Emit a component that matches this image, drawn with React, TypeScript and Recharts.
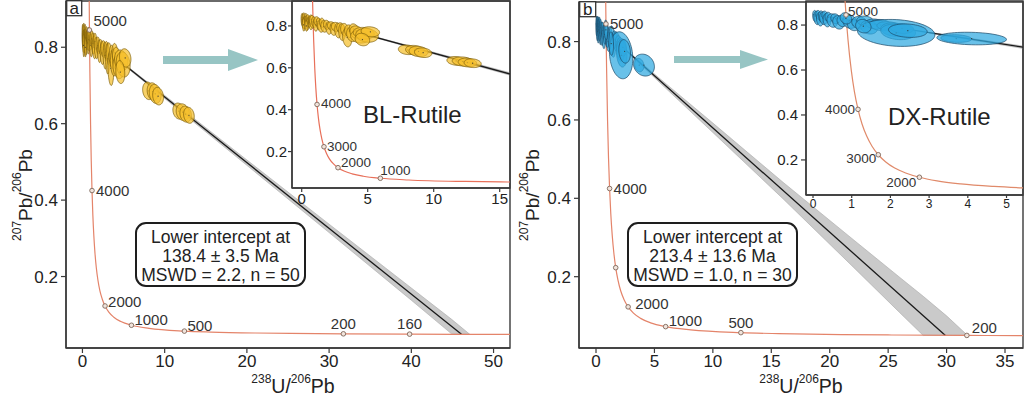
import React from 'react';
import { ComposedChart, XAxis, YAxis, Line, Scatter, Area, ReferenceArea } from 'recharts';

const FONT = "'Liberation Sans', Arial, Helvetica, sans-serif";

// ---- Tera-Wasserburg concordia (age in Ma, 238U/206Pb, 207Pb/206Pb) ----
const concordiaAge = [5300, 5200, 5100, 5000, 4800, 4500, 4250, 4000, 3750, 3500, 3250, 3000, 2750, 2500, 2250, 2000, 1750, 1500, 1250, 1000, 750, 500, 400, 300, 250, 200, 160, 140, 120, 100];
const concordiaX = [0.784, 0.806, 0.829, 0.853, 0.904, 0.99, 1.071, 1.163, 1.267, 1.387, 1.525, 1.687, 1.88, 2.111, 2.394, 2.749, 3.206, 3.817, 4.673, 5.959, 8.105, 12.399, 15.621, 20.991, 25.289, 31.735, 39.79, 45.55, 53.22, 63.97];
const concordiaY = [1.046, 0.974, 0.907, 0.845, 0.735, 0.597, 0.503, 0.425, 0.36, 0.306, 0.261, 0.223, 0.191, 0.164, 0.142, 0.123, 0.107, 0.0936, 0.0822, 0.0725, 0.0643, 0.0572, 0.0547, 0.0523, 0.0512, 0.0501, 0.04925, 0.04884, 0.04843, 0.04802];

const markerAgesAMain = [5000, 4000, 2000, 1000, 500, 200, 160];
const markerAgesAInset = [4000, 3000, 2000, 1000];
const markerAgesBMain = [5000, 4000, 3000, 2000, 1000, 500, 200];
const markerAgesBInset = [5000, 4000, 3000, 2000];

// ---- BL-Rutile (n = 50) ----
const aX = [0.05, 0.12, 0.18, 0.22, 0.28, 0.33, 0.38, 0.42, 0.48, 0.55, 0.6, 0.68, 0.72, 0.15, 0.35, 0.8, 0.95, 1.05, 1.15, 1.3, 1.45, 1.55, 1.7, 1.9, 2.05, 2.25, 2.4, 2.6, 2.75, 2.95, 3.05, 3.25, 3.45, 3.6, 3.8, 3.95, 4.15, 4.4, 4.7, 4.95, 5.2, 4.6, 8.0, 8.55, 8.85, 9.2, 11.7, 12.2, 12.55, 12.95];
const aY = [0.83, 0.822, 0.838, 0.815, 0.828, 0.842, 0.82, 0.81, 0.832, 0.818, 0.826, 0.812, 0.83, 0.805, 0.8, 0.82, 0.818, 0.805, 0.822, 0.81, 0.8, 0.815, 0.798, 0.805, 0.79, 0.8, 0.785, 0.795, 0.778, 0.79, 0.77, 0.782, 0.745, 0.775, 0.76, 0.785, 0.77, 0.748, 0.765, 0.755, 0.772, 0.735, 0.686, 0.684, 0.678, 0.672, 0.633, 0.63, 0.625, 0.622];
const aSX = [0.1, 0.12, 0.1, 0.15, 0.12, 0.1, 0.15, 0.12, 0.14, 0.16, 0.12, 0.15, 0.18, 0.1, 0.12, 0.2, 0.2, 0.18, 0.22, 0.2, 0.25, 0.2, 0.25, 0.25, 0.22, 0.3, 0.25, 0.35, 0.25, 0.3, 0.25, 0.3, 0.35, 0.35, 0.4, 0.35, 0.5, 0.7, 0.8, 0.85, 0.7, 0.55, 0.68, 0.68, 0.72, 0.66, 0.7, 0.8, 0.7, 0.65];
const aSY = [0.03, 0.035, 0.025, 0.03, 0.02, 0.018, 0.028, 0.03, 0.022, 0.025, 0.02, 0.03, 0.022, 0.03, 0.025, 0.03, 0.025, 0.03, 0.022, 0.028, 0.03, 0.022, 0.028, 0.022, 0.03, 0.02, 0.03, 0.022, 0.035, 0.025, 0.04, 0.03, 0.045, 0.03, 0.035, 0.025, 0.03, 0.03, 0.028, 0.033, 0.024, 0.03, 0.023, 0.023, 0.025, 0.023, 0.021, 0.022, 0.021, 0.021];

// ---- DX-Rutile (n = 30) ----
const bX = [0.05, 0.1, 0.14, 0.18, 0.22, 0.27, 0.31, 0.36, 0.4, 0.5, 0.58, 0.66, 0.75, 0.95, 1.05, 1.2, 1.35, 1.45, 1.6, 1.75, 1.95, 2.1, 2.2, 2.3, 2.15, 2.45, 1.3, 0.85, 3.7, 4.1];
const bY = [0.84, 0.832, 0.845, 0.826, 0.838, 0.83, 0.842, 0.822, 0.835, 0.82, 0.828, 0.812, 0.818, 0.815, 0.8, 0.81, 0.818, 0.79, 0.805, 0.8, 0.795, 0.78, 0.77, 0.785, 0.765, 0.775, 0.795, 0.83, 0.74, 0.74];
const bSX = [0.06, 0.08, 0.07, 0.09, 0.08, 0.1, 0.08, 0.1, 0.09, 0.14, 0.12, 0.15, 0.13, 0.18, 0.16, 0.2, 0.22, 0.22, 0.25, 0.28, 0.3, 0.35, 0.45, 0.3, 1.0, 0.5, 0.2, 0.15, 0.4, 0.9];
const bSY = [0.025, 0.03, 0.02, 0.03, 0.025, 0.028, 0.02, 0.03, 0.022, 0.03, 0.022, 0.03, 0.025, 0.03, 0.025, 0.028, 0.022, 0.03, 0.022, 0.025, 0.02, 0.03, 0.035, 0.022, 0.06, 0.03, 0.03, 0.025, 0.017, 0.028];

// ---- Discordia lines and error envelopes ----
const discAX = [0, 46.1];
const discAY = [0.842, 0.049];
const discBX = [0, 29.9];
const discBY = [0.846, 0.05];
const bandAX = [3, 10, 20, 30, 40, 44.9, 47.1];
const bandALo = [0.789, 0.666, 0.491, 0.315, 0.138, 0.05, 0.049];
const bandAHi = [0.791, 0.674, 0.505, 0.337, 0.17, 0.088, 0.049];
const bandBX = [3, 6, 10, 16, 22, 26, 28, 30, 31.8];
const bandBLo = [0.764, 0.68, 0.568, 0.399, 0.225, 0.108, 0.05, 0.05, 0.05];
const bandBHi = [0.768, 0.692, 0.592, 0.441, 0.295, 0.198, 0.15, 0.1, 0.05];

// ---- tick labels ----
const yTicks = [0.2, 0.4, 0.6, 0.8];
const xTicksAMain = [0, 10, 20, 30, 40, 50];
const xTicksAInset = [0, 5, 10, 15];
const xTicksBMain = [0, 5, 10, 15, 20, 25, 30, 35];
const xTicksBInset = [0, 1, 2, 3, 4, 5];

// ---- built tables ----
const concData = concordiaAge.map((age, i) => ({ age, x: concordiaX[i], y: concordiaY[i] }));
const pick = (ages: number[]) => ages.map((a) => concData.find((d) => d.age === a)!);
const ellA = aX.map((x, i) => ({ x, y: aY[i], sx: aSX[i], sy: aSY[i] }));
const ellB = bX.map((x, i) => ({ x, y: bY[i], sx: bSX[i], sy: bSY[i] }));
const discA = discAX.map((x, i) => ({ x, y: discAY[i] }));
const discB = discBX.map((x, i) => ({ x, y: discBY[i] }));
const bandA = bandAX.map((x, i) => ({ x, band: [bandALo[i], bandAHi[i]] }));
const bandB = bandBX.map((x, i) => ({ x, band: [bandBLo[i], bandBHi[i]] }));

type Cfg = {
  left: number; top: number; width: number; height: number;
  mt: number; mr: number; yw: number; xh: number;
  xd: [number, number]; yd: [number, number];
  xTicks: number[]; xFont: number; yFont: number;
  tickSize: number; tickMargin: number; xTickSize: number; xTickMargin: number;
};

const CFG: Record<string, Cfg> = {
  aMain: { left: 0, top: 0, width: 520, height: 398, mt: 1, mr: 10, yw: 66, xh: 50, xd: [-2, 52], yd: [0.013, 0.921], xTicks: xTicksAMain, xFont: 17, yFont: 17, tickSize: 5, tickMargin: 3, xTickSize: 5, xTickMargin: 2 },
  aInset: { left: 250, top: 0, width: 270, height: 215, mt: 1, mr: 10, yw: 42, xh: 27, xd: [-0.735, 15.78], yd: [0.026, 0.919], xTicks: xTicksAInset, xFont: 15, yFont: 15, tickSize: 4, tickMargin: 1, xTickSize: 4, xTickMargin: 1 },
  bMain: { left: 513, top: 0, width: 511, height: 398, mt: 2, mr: 1, yw: 66, xh: 50, xd: [-1.455, 36.54], yd: [0.018, 0.901], xTicks: xTicksBMain, xFont: 17, yFont: 17, tickSize: 5, tickMargin: 3, xTickSize: 5, xTickMargin: 2 },
  bInset: { left: 766, top: 0, width: 258, height: 222, mt: 1, mr: 1, yw: 40, xh: 27, xd: [-0.181, 5.426], yd: [0.044, 0.907], xTicks: xTicksBInset, xFont: 12, yFont: 15, tickSize: 5, tickMargin: 3, xTickSize: 3, xTickMargin: 1 },
};

// label placement for concordia age markers: [dx, dy, anchor]
const LBL: Record<string, Record<number, [number, number, string]>> = {
  aMain: { 5000: [4, -4, 'start'], 4000: [4, 5, 'start'], 2000: [3, 1, 'start'], 1000: [3, 0, 'start'], 500: [3, 0, 'start'], 200: [0, -5, 'middle'], 160: [0, -5, 'middle'] },
  aInset: { 4000: [4, 4, 'start'], 3000: [3, 4, 'start'], 2000: [3, -1, 'start'], 1000: [0, -3, 'start'] },
  bMain: { 5000: [4, 5, 'start'], 4000: [4, 5, 'start'], 2000: [7, 2, 'start'], 1000: [3, -1, 'start'], 500: [0, -5, 'middle'], 200: [5, -2, 'start'] },
  bInset: { 5000: [2, 1, 'start'], 4000: [-3, 5, 'end'], 3000: [-2, 8, 'end'], 2000: [-3, 10, 'end'] },
};

const AXIS = '#3a3a3a';

function ellipseShape(kx: number, ky: number, rho: number, fill: string, stroke: string) {
  return (props: any) => {
    const { cx, cy, payload } = props;
    if (typeof cx !== 'number' || typeof cy !== 'number' || !payload) return <g />;
    const s = Math.sqrt(1 - rho * rho);
    let d = '';
    for (let i = 0; i <= 60; i++) {
      const t = (2 * Math.PI * i) / 60;
      const dx = payload.sx * Math.cos(t);
      const dy = payload.sy * (rho * Math.cos(t) + s * Math.sin(t));
      d += (i === 0 ? 'M' : 'L') + (cx + dx * kx).toFixed(2) + ',' + (cy - dy * ky).toFixed(2);
    }
    d += 'Z';
    return (
      <g>
        <path d={d} fill={fill} fillOpacity={0.72} stroke={stroke} strokeWidth={0.7} />
        <circle cx={cx} cy={cy} r={0.6} fill="#333" />
      </g>
    );
  };
}

function markerShape(pos: Record<number, [number, number, string]>, fontSize: number) {
  return (props: any) => {
    const { cx, cy, payload } = props;
    if (typeof cx !== 'number' || typeof cy !== 'number' || !payload) return <g />;
    const p = pos[payload.age];
    return (
      <g>
        <circle cx={cx} cy={cy} r={2.3} fill="#f1e4dc" stroke="#7d665a" strokeWidth={0.9} />
        {p && (
          <text x={cx + p[0]} y={cy + p[1]} textAnchor={p[2] as any} fontSize={fontSize} fontFamily={FONT} fill="#333">
            {payload.age}
          </text>
        )}
      </g>
    );
  };
}

function Plot(props: {
  id: string; ell: any[]; fill: string; stroke: string; rho: number;
  disc: any[]; band: any[]; markers: any[]; mFont: number; conc: string;
}) {
  const c = CFG[props.id];
  const plotW = c.width - c.mr - c.yw;
  const plotH = c.height - c.mt - c.xh;
  const kx = plotW / (c.xd[1] - c.xd[0]);
  const ky = plotH / (c.yd[1] - c.yd[0]);
  return (
    <div style={{ position: 'absolute', left: c.left, top: c.top }}>
      <ComposedChart width={c.width} height={c.height} margin={{ top: c.mt, right: c.mr, bottom: 0, left: 0 }}>
        <XAxis
          type="number" dataKey="x" domain={c.xd} ticks={c.xTicks} allowDataOverflow interval={0}
          height={c.xh} tickSize={c.xTickSize} tickMargin={c.xTickMargin}
          axisLine={{ stroke: AXIS, strokeWidth: 1.4 }} tickLine={{ stroke: AXIS, strokeWidth: 1.2 }}
          tick={{ fill: '#222', fontSize: c.xFont, fontFamily: FONT }}
        />
        <YAxis
          type="number" domain={c.yd} ticks={yTicks} allowDataOverflow interval={0}
          width={c.yw} tickSize={c.tickSize} tickMargin={c.tickMargin}
          axisLine={{ stroke: AXIS, strokeWidth: 1.4 }} tickLine={{ stroke: AXIS, strokeWidth: 1.2 }}
          tick={{ fill: '#222', fontSize: c.yFont, fontFamily: FONT }}
          tickFormatter={(v: number) => String(v)}
        />
        <Area data={props.band} dataKey="band" type="linear" stroke="#a8a8a8" strokeWidth={0.6} fill="#c4c4c4" fillOpacity={0.9} isAnimationActive={false} dot={false} activeDot={false} />
        <Line data={props.disc} dataKey="y" type="linear" stroke="#1a1a1a" strokeWidth={1.3} dot={false} activeDot={false} isAnimationActive={false} />
        <Line data={concData} dataKey="y" type="monotoneX" stroke={props.conc} strokeWidth={1.2} dot={false} activeDot={false} isAnimationActive={false} />
        <Scatter data={props.ell} dataKey="y" isAnimationActive={false} shape={ellipseShape(kx, ky, props.rho, props.fill, props.stroke)} />
        <Scatter data={props.markers} dataKey="y" isAnimationActive={false} shape={markerShape(LBL[props.id], props.mFont)} />
        <ReferenceArea x1={c.xd[0]} x2={c.xd[1]} y1={c.yd[0]} y2={c.yd[1]} fill="none" fillOpacity={0} stroke={AXIS} strokeWidth={1.4} />
      </ComposedChart>
    </div>
  );
}

function YTitle({ x, y }: { x: number; y: number }) {
  return (
    <text transform={`rotate(-90 ${x} ${y})`} x={x} y={y} textAnchor="middle" fontFamily={FONT} fontSize={19} fill="#222">
      <tspan fontSize={12} dy={-11}>207</tspan>
      <tspan dy={11}>Pb/</tspan>
      <tspan fontSize={12} dy={-11}>206</tspan>
      <tspan dy={11}>Pb</tspan>
    </text>
  );
}

function XTitle({ x, y }: { x: number; y: number }) {
  return (
    <text x={x} y={y} textAnchor="middle" fontFamily={FONT} fontSize={19.5} fill="#222">
      <tspan fontSize={12} dy={-10}>238</tspan>
      <tspan dy={10}>U/</tspan>
      <tspan fontSize={12} dy={-10}>206</tspan>
      <tspan dy={10}>Pb</tspan>
    </text>
  );
}

function InfoBox({ x, lines }: { x: number; lines: string[] }) {
  const cx = x + 84.5;
  return (
    <g>
      <rect x={x} y={223} width={169} height={63} rx={10} ry={10} fill="#fff" stroke="#1e1e1e" strokeWidth={2} />
      {lines.map((t, i) => (
        <text key={i} x={cx} y={243 + i * 19} textAnchor="middle" fontFamily={FONT} fontSize={17.5} fill="#222">{t}</text>
      ))}
    </g>
  );
}

export default function App() {
  return (
    <div style={{ position: 'absolute', left: 0, top: 0, width: 1024, height: 398, background: '#fff', overflow: 'hidden' }}>
      <Plot id="aMain" ell={ellA} fill="#f5bf2c" stroke="#7a5b08" rho={-0.15} disc={discA} band={bandA} markers={pick(markerAgesAMain)} mFont={15} conc="#e4846a" />
      <Plot id="bMain" ell={ellB} fill="#2fa9e0" stroke="#1b4766" rho={-0.15} disc={discB} band={bandB} markers={pick(markerAgesBMain)} mFont={15} conc="#e4846a" />
      <Plot id="aInset" ell={ellA} fill="#f5bf2c" stroke="#7a5b08" rho={-0.15} disc={discA} band={bandA} markers={pick(markerAgesAInset)} mFont={13.5} conc="#e8705a" />
      <Plot id="bInset" ell={ellB} fill="#2fa9e0" stroke="#1b4766" rho={-0.15} disc={discB} band={bandB} markers={pick(markerAgesBInset)} mFont={13.5} conc="#e08a6a" />
      <svg width={1024} height={398} style={{ position: 'absolute', left: 0, top: 0, pointerEvents: 'none' }}>
        <YTitle x={32} y={195} />
        <YTitle x={539} y={195} />
        <XTitle x={293} y={393} />
        <XTitle x={801} y={393} />
        <polygon points="163,56 228,56 228,49 258,60 228,71 228,64 163,64" fill="#97c5c4" />
        <polygon points="674,56 740,56 740,50 768,59.5 740,69 740,63 674,63" fill="#97c5c4" />
        <rect x={66.7} y={0.7} width={15} height={15} fill="#fff" stroke="#333" strokeWidth={1.3} />
        <text x={74.2} y={13.5} textAnchor="middle" fontFamily={FONT} fontSize={17} fill="#222">a</text>
        <rect x={579.7} y={1.7} width={16} height={15} fill="#fff" stroke="#333" strokeWidth={1.3} />
        <text x={587.7} y={14.5} textAnchor="middle" fontFamily={FONT} fontSize={17} fill="#222">b</text>
        <text x={363} y={123} fontFamily={FONT} fontSize={24} fill="#222">BL-Rutile</text>
        <text x={888} y={125} fontFamily={FONT} fontSize={24} fill="#222">DX-Rutile</text>
        <InfoBox x={136} lines={['Lower intercept at', '138.4 ± 3.5 Ma', 'MSWD = 2.2, n = 50']} />
        <InfoBox x={628} lines={['Lower intercept at', '213.4 ± 13.6 Ma', 'MSWD = 1.0, n = 30']} />
      </svg>
    </div>
  );
}
